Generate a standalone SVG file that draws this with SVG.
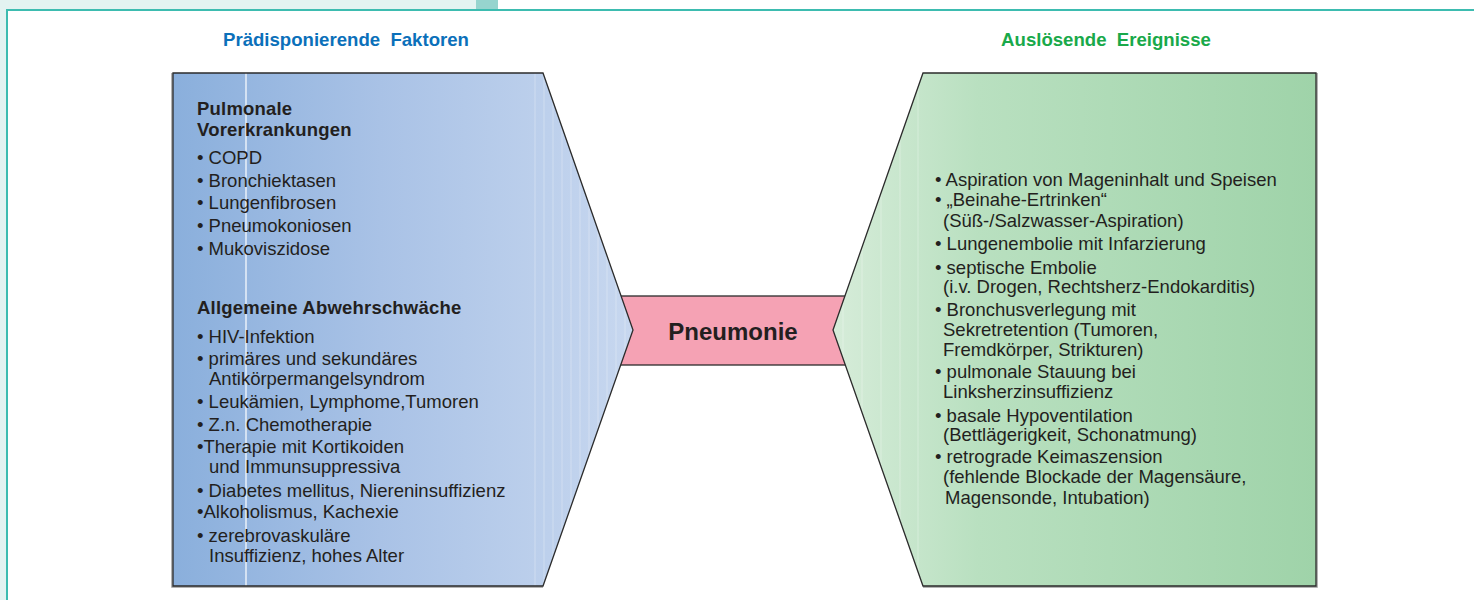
<svg xmlns="http://www.w3.org/2000/svg" width="1474" height="600" viewBox="0 0 1474 600">
  <defs>
    <linearGradient id="gBlue" gradientUnits="userSpaceOnUse" x1="173" y1="0" x2="633" y2="0">
      <stop offset="0" stop-color="#8aafdc"/>
      <stop offset="0.45" stop-color="#a9c2e6"/>
      <stop offset="1" stop-color="#c7d7ef"/>
    </linearGradient>
    <linearGradient id="gGreen" gradientUnits="userSpaceOnUse" x1="833" y1="0" x2="1316" y2="0">
      <stop offset="0" stop-color="#d6ecd9"/>
      <stop offset="0.3" stop-color="#b9e0c0"/>
      <stop offset="1" stop-color="#9fd3a9"/>
    </linearGradient>
    <clipPath id="cBlue"><polygon points="173,73 543,73 633,330 543,586 173,586"/></clipPath>
    <clipPath id="cGreen"><polygon points="923,73 1316,73 1316,586 923,586 833,330"/></clipPath>
    <style>
      .t { font-family: "Liberation Sans", Arial, sans-serif; font-size: 18.5px; fill: #231f20; }
      .b { font-weight: bold; letter-spacing: 0.2px; }
      .h { font-family: "Liberation Sans", Arial, sans-serif; font-size: 18.6px; font-weight: bold; text-anchor: middle; }
      .edge { stroke: #2b2b2b; stroke-width: 1.3; stroke-linejoin: miter; }
      .shadow { fill: none; stroke: #9a9a9a; stroke-width: 1.5; }
      .band { stroke: #ffffff; stroke-opacity: 0.3; stroke-width: 1; }
    </style>
  </defs>

  <!-- page frame -->
  <g id="frame">
    <rect x="0" y="0" width="1474" height="600" fill="#ffffff"/>
    <rect x="0" y="0" width="476" height="9" fill="#e3f3f1"/>
    <rect x="476" y="0" width="22" height="9" fill="#96d4ce"/>
    <rect x="0" y="0" width="6" height="600" fill="#e3f3f1"/>
    <line x1="6" y1="10" x2="1474" y2="10" stroke="#3dbcb0" stroke-width="2"/>
    <line x1="7" y1="9" x2="7" y2="600" stroke="#3dbcb0" stroke-width="2"/>
  </g>

  <!-- headings -->
  <g id="headings">
    <text class="h" x="346" y="46" fill="#0b70ba" xml:space="preserve">Prädisponierende  Faktoren</text>
    <text class="h" x="1106" y="46" fill="#19a94a" xml:space="preserve">Auslösende  Ereignisse</text>
  </g>

  <!-- center node -->
  <g id="pneumonie">
    <rect x="619" y="296" width="228" height="69" fill="#f5a2b4" class="edge"/>
  </g>

  <!-- left node -->
  <g id="praedisponierende-faktoren">
    <polyline class="shadow" points="172,73 172,587 543,587"/>
    <polygon points="173,73 543,73 633,330 543,586 173,586" fill="url(#gBlue)"/>
    <g clip-path="url(#cBlue)">
      <line x1="246" y1="73" x2="246" y2="586" stroke="#ffffff" stroke-width="1.2"/>
      <g class="band">
        <line x1="535" y1="73" x2="535" y2="586"/>
        <line x1="544" y1="73" x2="544" y2="586"/>
        <line x1="553" y1="73" x2="553" y2="586"/>
        <line x1="562" y1="73" x2="562" y2="586"/>
        <line x1="571" y1="73" x2="571" y2="586"/>
        <line x1="580" y1="73" x2="580" y2="586"/>
        <line x1="589" y1="73" x2="589" y2="586"/>
        <line x1="598" y1="73" x2="598" y2="586"/>
        <line x1="607" y1="73" x2="607" y2="586"/>
        <line x1="616" y1="73" x2="616" y2="586"/>
        <line x1="625" y1="73" x2="625" y2="586"/>
      </g>
    </g>
    <polygon points="173,73 543,73 633,330 543,586 173,586" fill="none" class="edge"/>
    <text class="t b" x="197" y="115">Pulmonale</text>
    <text class="t b" x="197" y="136">Vorerkrankungen</text>
    <text class="t" x="197" y="164">• COPD</text>
    <text class="t" x="197" y="187">• Bronchiektasen</text>
    <text class="t" x="197" y="209">• Lungenfibrosen</text>
    <text class="t" x="197" y="232">• Pneumokoniosen</text>
    <text class="t" x="197" y="255">• Mukoviszidose</text>
    <text class="t b" x="197" y="314">Allgemeine Abwehrschwäche</text>
    <text class="t" x="197" y="343">• HIV-Infektion</text>
    <text class="t" x="197" y="365">• primäres und sekundäres</text>
    <text class="t" x="209" y="385">Antikörpermangelsyndrom</text>
    <text class="t" x="197" y="408">• Leukämien, Lymphome,Tumoren</text>
    <text class="t" x="197" y="431">• Z.n. Chemotherapie</text>
    <text class="t" x="197" y="453">•Therapie mit Kortikoiden</text>
    <text class="t" x="209" y="473">und Immunsuppressiva</text>
    <text class="t" x="197" y="497">• Diabetes mellitus, Niereninsuffizienz</text>
    <text class="t" x="197" y="518">•Alkoholismus, Kachexie</text>
    <text class="t" x="197" y="542">• zerebrovaskuläre</text>
    <text class="t" x="209" y="562">Insuffizienz, hohes Alter</text>
  </g>

  <!-- right node -->
  <g id="ausloesende-ereignisse">
    <polyline class="shadow" points="923,587 1317,587 1317,73"/>
    <polygon points="923,73 1316,73 1316,586 923,586 833,330" fill="url(#gGreen)"/>
    <g clip-path="url(#cGreen)" class="band">
      <line x1="843" y1="73" x2="843" y2="586"/>
      <line x1="862" y1="73" x2="862" y2="586"/>
      <line x1="881" y1="73" x2="881" y2="586"/>
      <line x1="900" y1="73" x2="900" y2="586"/>
      <line x1="918" y1="73" x2="918" y2="586"/>
    </g>
    <polygon points="923,73 1316,73 1316,586 923,586 833,330" fill="none" class="edge"/>
    <text class="t" x="935" y="186">• Aspiration von Mageninhalt und Speisen</text>
    <text class="t" x="935" y="206">• „Beinahe-Ertrinken“</text>
    <text class="t" x="943" y="227">(Süß-/Salzwasser-Aspiration)</text>
    <text class="t" x="935" y="250">• Lungenembolie mit Infarzierung</text>
    <text class="t" x="935" y="274">• septische Embolie</text>
    <text class="t" x="943" y="293">(i.v. Drogen, Rechtsherz-Endokarditis)</text>
    <text class="t" x="935" y="316">• Bronchusverlegung mit</text>
    <text class="t" x="943" y="336">Sekretretention (Tumoren,</text>
    <text class="t" x="943" y="356">Fremdkörper, Strikturen)</text>
    <text class="t" x="935" y="378">• pulmonale Stauung bei</text>
    <text class="t" x="943" y="398">Linksherzinsuffizienz</text>
    <text class="t" x="935" y="422">• basale Hypoventilation</text>
    <text class="t" x="943" y="441">(Bettlägerigkeit, Schonatmung)</text>
    <text class="t" x="935" y="463">• retrograde Keimaszension</text>
    <text class="t" x="943" y="483">(fehlende Blockade der Magensäure,</text>
    <text class="t" x="945" y="504">Magensonde, Intubation)</text>
  </g>

  <!-- center label on top -->
  <g id="pneumonie-label">
    <text x="733" y="340" text-anchor="middle" style="font-family: 'Liberation Sans', Arial, sans-serif; font-size: 24px; font-weight: bold; fill: #231f20;">Pneumonie</text>
  </g>

  <g id="connectors"/>
</svg>
